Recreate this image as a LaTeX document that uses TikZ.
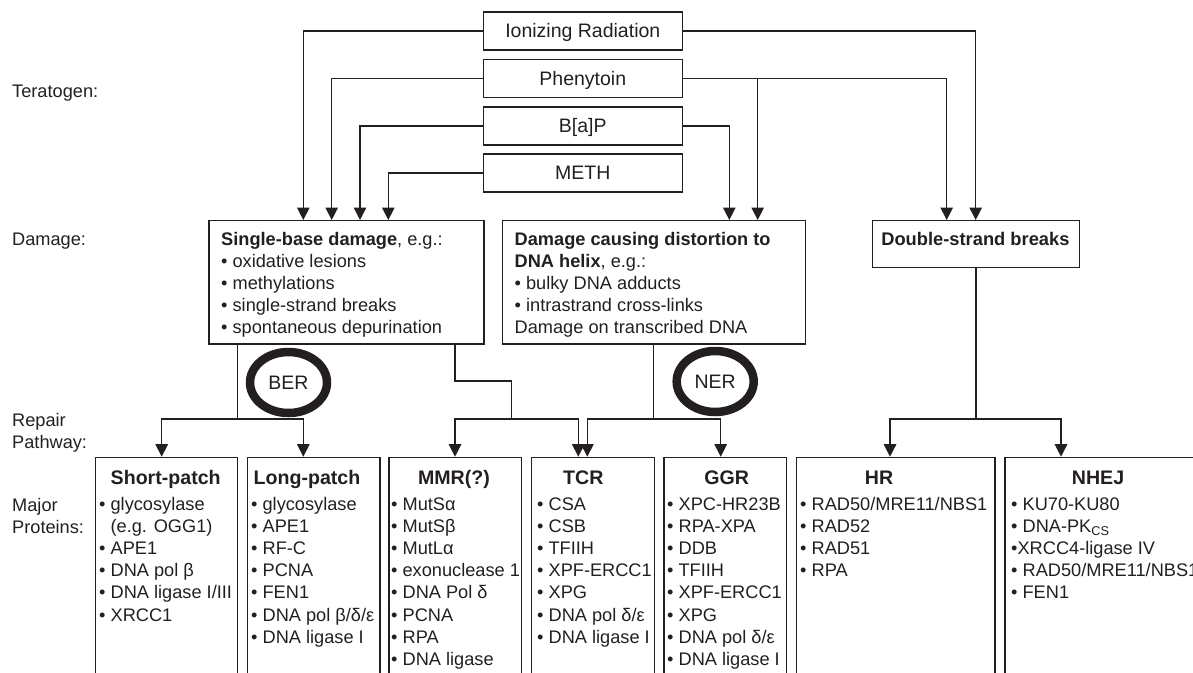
\documentclass[tikz,border=0pt]{standalone}
\usepackage{fontspec}
\setmainfont{Liberation Sans}
\usetikzlibrary{arrows.meta}
\definecolor{ink}{HTML}{231F20}
\begin{document}
\begin{tikzpicture}[x=1pt,y=-1pt,
  every node/.style={text=ink},
  ln/.style={draw=ink,line width=1.3pt},
  arr/.style={ln,-{Triangle[width=12.5pt,length=12.5pt]}},
  tbox/.style={draw=ink,line width=1.3pt,minimum width=199pt,minimum height=38pt,inner sep=0pt,text height=16pt,text depth=2pt,font=\fontsize{19.5}{22}\selectfont},
  dbox/.style={draw=ink,line width=1.3pt,anchor=north west,inner sep=0pt},
  pbox/.style={draw=ink,line width=1.3pt,anchor=north west,inner sep=0pt,minimum height=260pt},
  txt/.style={anchor=base west,inner sep=0pt,font=\fontsize{18.2}{22}\selectfont},
  ttl/.style={anchor=base,inner sep=0pt,font=\fontsize{19.6}{22}\selectfont\bfseries},
  ring/.style={draw=ink,line width=8.5pt}
]
\useasboundingbox (0,0) rectangle (1193,672);
\clip (0,0) rectangle (1193,672);

% ---------- left labels
\node[txt] (lt)  at (12,97)    {Teratogen:};
\node[txt] (ld)  at (12,245.5) {Damage:};
\node[txt] (lr1) at (12,426.5) {Repair};
\node[txt] (lr2) at (12,448.5) {Pathway:};
\node[txt] (lm1) at (12,511.5) {Major};
\node[txt] (lm2) at (12,533.5) {Proteins:};

% ---------- teratogens
\node[tbox] (ir)   at (582.8,30.85)  {Ionizing Radiation};
\node[tbox] (ph)   at (582.8,78.3)   {Phenytoin};
\node[tbox] (bap)  at (582.8,125.85) {B[a]P};
\node[tbox] (meth) at (582.8,172.85) {METH};

% ---------- damage boxes
\node[dbox,minimum width=275pt,minimum height=123.3pt] (sb) at (208.3,220) {};
\node[dbox,minimum width=303.3pt,minimum height=123.3pt] (dh) at (501.7,220) {};
\node[dbox,minimum width=207.3pt,minimum height=47pt] (dsb) at (871.7,220) {};

\foreach \t [count=\i] in {{\textbf{Single-base damage}, e.g.:},{• oxidative lesions},{• methylations},{• single-strand breaks},{• spontaneous depurination}}
  \node[txt] (sbt\i) at (221,245.5+22*\i-22) {\t};
\foreach \t [count=\i] in {{\textbf{Damage causing distortion to}},{\textbf{DNA helix}, e.g.:},{• bulky DNA adducts},{• intrastrand cross-links},{Damage on transcribed DNA}}
  \node[txt] (dht\i) at (514.5,245.5+22*\i-22) {\t};
\node[ttl,font=\fontsize{18.3}{22}\selectfont\bfseries] (dsbt) at (975.4,245.5) {Double-strand breaks};

% ---------- pathway boxes
\node[pbox,minimum width=141.5pt] (sp)   at (95,456.7)    {};
\node[pbox,minimum width=132.6pt] (lp)   at (246.7,456.7) {};
\node[pbox,minimum width=132.4pt] (mmr)  at (388.3,456.7) {};
\node[pbox,minimum width=123.2pt] (tcr)  at (530.5,456.7) {};
\node[pbox,minimum width=122.7pt] (ggr)  at (663.3,456.7) {};
\node[pbox,minimum width=198.8pt] (hr)   at (795.5,456.7) {};
\node[pbox,minimum width=220pt]   (nhej) at (1004.2,456.7) {};

\node[ttl] (spt)   at (165.7,484.5) {Short-patch};
\node[ttl] (lpt)   at (307,484.5)   {Long-patch};
\node[ttl] (mmrt)  at (454,484.5)   {MMR(?)};
\node[ttl] (tcrt)  at (583.3,484.5) {TCR};
\node[ttl] (ggrt)  at (726.7,484.5) {GGR};
\node[ttl] (hrt)   at (879,484.5)   {HR};
\node[ttl] (nhejt) at (1098,484.5)  {NHEJ};

\foreach \t [count=\i] in {{• glycosylase},{\hphantom{•} (e.g. OGG1)},{• APE1},{• DNA pol β},{• DNA ligase I/III},{• XRCC1}}
  \node[txt] (spi\i) at (99,510+22.2*\i-22.2) {\t};
\foreach \t [count=\i] in {{• glycosylase},{• APE1},{• RF-C},{• PCNA},{• FEN1},{• DNA pol β/δ/ε},{• DNA ligase I}}
  \node[txt] (lpi\i) at (251,510+22.2*\i-22.2) {\t};
\foreach \t [count=\i] in {{• MutSα},{• MutSβ},{• MutLα},{• exonuclease 1},{• DNA Pol δ},{• PCNA},{• RPA},{• DNA ligase}}
  \node[txt] (mmri\i) at (391,510+22.2*\i-22.2) {\t};
\foreach \t [count=\i] in {{• CSA},{• CSB},{• TFIIH},{• XPF-ERCC1},{• XPG},{• DNA pol δ/ε},{• DNA ligase I}}
  \node[txt] (tcri\i) at (537,510+22.2*\i-22.2) {\t};
\foreach \t [count=\i] in {{• XPC-HR23B},{• RPA-XPA},{• DDB},{• TFIIH},{• XPF-ERCC1},{• XPG},{• DNA pol δ/ε},{• DNA ligase I}}
  \node[txt] (ggri\i) at (667,510+22.2*\i-22.2) {\t};
\foreach \t [count=\i] in {{• RAD50/MRE11/NBS1},{• RAD52},{• RAD51},{• RPA}}
  \node[txt] (hri\i) at (800,510+22.2*\i-22.2) {\t};
\foreach \t [count=\i] in {{• KU70-KU80},{• DNA-PK\textsubscript{CS}},{•XRCC4-ligase IV},{• RAD50/MRE11/NBS1},{• FEN1}}
  \node[txt] (nheji\i) at (1011,510+22.2*\i-22.2) {\t};

% ---------- rings
\node[inner sep=0pt,font=\fontsize{19.5}{22}\selectfont] (ber) at (288.5,382.5) {BER};
\draw[ring] (ber.center) ellipse [x radius=38.5pt, y radius=30.5pt];
\node[inner sep=0pt,font=\fontsize{19.5}{22}\selectfont] (ner) at (715.2,381.5) {NER};
\draw[ring] (ner.center) ellipse [x radius=38.5pt, y radius=30.5pt];

% ---------- coordinates for connector ends
\coordinate (sbIR) at (303.3,220);
\coordinate (sbPh) at (331.7,220);
\coordinate (sbBa) at (360,220);
\coordinate (sbMe) at (388.3,220);
\coordinate (dhBa) at (729.3,220);
\coordinate (dhPh) at (757.7,220);
\coordinate (dsPh) at (946.7,220);
\coordinate (dsIR) at (975.7,220);

\draw[arr] (ir.west) -| (sbIR);
\draw[arr] (ph.west) -| (sbPh);
\draw[arr] (bap.west) -| (sbBa);
\draw[arr] (meth.west) -| (sbMe);
\draw[arr] (ir.east) -| (dsIR);
\draw[arr] (ph.east) -| (dsPh);
\coordinate (jPh) at (ph.east -| dhPh);
\draw[arr] (jPh) -- (dhPh);
\draw[arr] (bap.east) -| (dhBa);

% lower connectors
\coordinate (sbB1) at (237.3,343.3);
\coordinate (jB)   at (237.3,419);
\coordinate (spT)  at (161.7,456.7);
\coordinate (lpT)  at (303.3,456.7);
\draw[ln] (sbB1) -- (jB);
\draw[arr] (jB) -| (spT);
\draw[arr] (jB) -| (lpT);

\coordinate (sbB2) at (455,343.3);
\coordinate (k1)   at (455,381);
\coordinate (k2)   at (511.7,381);
\coordinate (jM)   at (511.7,419);
\coordinate (mmrT) at (455,456.7);
\coordinate (tcrT1) at (578.3,456.7);
\draw[ln] (sbB2) -- (k1) -- (k2) -- (jM);
\draw[arr] (jM) -| (mmrT);
\draw[arr] (jM) -| (tcrT1);

\coordinate (dhB) at (653.3,343.3);
\coordinate (jN)  at (653.3,419);
\coordinate (tcrT2) at (587.3,456.7);
\coordinate (ggrT) at (720.7,456.7);
\draw[ln] (dhB) -- (jN);
\draw[arr] (jN) -| (tcrT2);
\draw[arr] (jN) -| (ggrT);

\coordinate (jD) at (dsb.south |- jN);
\coordinate (hrT) at (890,456.7);
\coordinate (nhT) at (1061,456.7);
\draw[ln] (dsb.south) -- (jD);
\draw[arr] (jD) -| (hrT);
\draw[arr] (jD) -| (nhT);
\end{tikzpicture}
\end{document}
